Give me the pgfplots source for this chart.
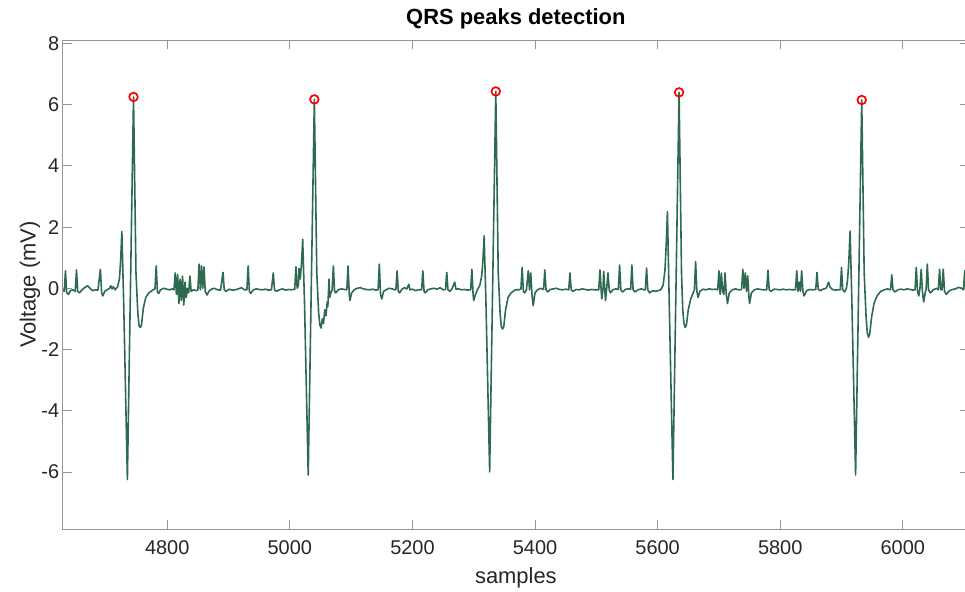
\documentclass[border=0pt]{standalone}
\usepackage{fontspec}
\setmainfont{Liberation Sans}
\usepackage{pgfplots}
\usepackage{pgfplotstable}
\pgfplotsset{compat=1.18}
\definecolor{ecg}{RGB}{46,106,79}
\definecolor{axgray}{RGB}{150,150,150}
\pgfplotstableread{
x y
4630 -0.05
4632 -0.1
4634 0.57
4636 -0.15
4639 -0.2
4642 -0.08
4646 -0.05
4650 -0.1
4652 0.6
4654 -0.1
4657 -0.15
4661 -0.05
4666 0.03
4670 0.08
4674 0.0
4678 -0.08
4682 -0.05
4687 -0.06
4691 0.62
4693 -0.15
4695 -0.25
4698 -0.1
4702 -0.05
4706 0.0
4708 0.08
4710 -0.02
4712 0.05
4715 -0.05
4719 0.05
4722 0.3
4724 0.9
4726 1.85
4729 -0.5
4735 -6.25
4745 6.25
4749 0.5
4752 -0.8
4754 -1.22
4756 -1.28
4758 -1.2
4761 -0.65
4765 -0.3
4770 -0.15
4777 -0.05
4780 -0.02
4782 0.73
4784 -0.12
4786 -0.17
4789 -0.05
4794 0.0
4799 -0.03
4804 -0.05
4808 -0.02
4811 -0.05
4813 0.5
4815 -0.2
4817 0.45
4819 -0.5
4821 0.3
4823 -0.4
4825 0.4
4827 -0.55
4829 0.2
4831 -0.3
4833 0.0
4835 -0.15
4837 0.4
4839 -0.1
4843 -0.05
4847 -0.08
4850 -0.05
4852 0.79
4854 -0.05
4856 0.73
4858 0.0
4860 0.7
4862 -0.1
4865 -0.22
4868 -0.1
4872 -0.03
4877 0.0
4882 -0.05
4887 -0.06
4891 0.52
4893 -0.05
4896 -0.1
4901 -0.03
4906 -0.06
4911 -0.05
4916 -0.02
4921 0.02
4926 -0.05
4930 -0.05
4932 0.73
4934 -0.1
4936 -0.17
4940 -0.06
4945 -0.02
4950 -0.04
4955 -0.05
4960 -0.03
4965 -0.06
4970 -0.05
4973 0.5
4975 -0.05
4978 -0.1
4983 -0.05
4988 -0.02
4993 -0.06
4998 -0.04
5003 -0.05
5008 -0.03
5010 0.7
5012 0.0
5014 0.1
5015 0.65
5017 0.3
5019 0.8
5021 1.6
5024 -0.5
5030 -6.1
5040 6.17
5044 0.5
5047 -0.8
5049 -1.2
5051 -1.3
5053 -1.0
5055 -1.15
5057 -0.7
5059 -0.9
5061 -0.45
5062 -0.6
5064 0.3
5065 -0.3
5067 -0.15
5069 -0.05
5071 0.73
5073 -0.1
5075 -0.15
5079 -0.05
5084 -0.02
5089 -0.04
5093 -0.05
5095 0.73
5097 -0.2
5098 -0.4
5101 -0.15
5105 -0.05
5110 0.0
5115 0.02
5120 -0.02
5125 -0.04
5130 -0.05
5135 -0.03
5140 -0.06
5144 -0.05
5146 0.79
5148 -0.2
5150 -0.35
5153 -0.1
5157 -0.05
5162 0.0
5167 -0.02
5171 -0.05
5173 -0.05
5175 0.57
5177 -0.1
5179 -0.15
5183 -0.03
5187 0.02
5191 -0.02
5194 0.13
5196 -0.05
5200 -0.03
5205 -0.08
5210 -0.05
5215 -0.05
5217 0.57
5219 -0.1
5221 -0.15
5225 -0.05
5230 -0.02
5235 0.0
5240 -0.03
5245 0.02
5250 -0.05
5254 -0.04
5256 0.52
5258 -0.05
5261 -0.1
5265 0.0
5269 0.2
5271 -0.03
5275 -0.02
5280 -0.05
5285 -0.04
5290 -0.06
5295 -0.05
5297 0.62
5299 -0.2
5300 -0.4
5303 -0.2
5306 -0.05
5310 0.1
5313 0.4
5315 0.9
5317 1.71
5320 -0.5
5326 -6.0
5336 6.43
5340 0.5
5343 -0.8
5345 -1.25
5347 -1.33
5349 -1.25
5352 -0.7
5356 -0.3
5361 -0.15
5368 -0.05
5373 -0.05
5377 -0.03
5379 0.68
5381 -0.1
5383 -0.15
5386 -0.05
5389 0.57
5391 -0.05
5393 0.5
5395 -0.2
5397 -0.57
5400 -0.15
5404 -0.05
5409 0.0
5414 -0.04
5416 0.6
5418 -0.05
5421 -0.12
5425 -0.04
5430 -0.02
5435 0.0
5440 -0.04
5445 -0.05
5450 -0.03
5455 -0.05
5457 0.5
5459 -0.05
5462 -0.1
5467 -0.04
5472 -0.05
5477 -0.02
5482 -0.04
5487 -0.06
5492 -0.04
5497 -0.05
5502 -0.05
5504 -0.05
5506 0.6
5508 -0.1
5509 -0.35
5511 0.0
5512 0.55
5514 -0.1
5515 -0.4
5517 0.0
5519 0.5
5521 -0.05
5523 -0.15
5527 -0.05
5532 -0.02
5536 -0.04
5538 0.76
5540 -0.05
5543 -0.12
5548 -0.03
5553 -0.02
5556 -0.04
5558 0.76
5560 -0.05
5563 -0.12
5568 -0.05
5573 -0.02
5578 -0.05
5580 -0.05
5582 0.66
5584 -0.05
5587 -0.15
5592 -0.08
5597 -0.1
5602 -0.07
5605 -0.05
5609 0.1
5612 0.6
5614 1.4
5616 2.5
5619 -0.5
5625 -6.25
5635 6.4
5639 0.5
5641 -0.7
5643 -1.15
5645 -1.28
5647 -1.2
5650 -0.7
5654 -0.35
5658 -0.15
5660 -0.05
5662 0.87
5664 -0.1
5666 -0.3
5669 -0.1
5674 -0.03
5679 -0.05
5684 -0.02
5689 -0.04
5694 -0.03
5698 -0.05
5700 0.57
5702 -0.2
5704 0.5
5706 -0.1
5708 -0.2
5710 0.5
5712 -0.2
5714 -0.5
5717 -0.15
5722 -0.05
5727 -0.02
5732 -0.05
5737 -0.04
5739 0.62
5741 0.0
5743 0.5
5745 -0.1
5747 0.4
5749 -0.3
5750 -0.5
5753 -0.15
5758 -0.05
5763 -0.02
5768 -0.04
5773 -0.05
5778 -0.05
5780 0.59
5782 -0.05
5785 -0.1
5790 -0.03
5795 -0.04
5800 -0.05
5805 -0.03
5810 -0.05
5815 -0.04
5820 -0.05
5825 -0.05
5827 0.57
5829 -0.1
5831 0.2
5833 -0.1
5835 0.57
5837 -0.1
5839 -0.25
5843 -0.08
5848 -0.04
5853 -0.05
5858 -0.04
5860 0.52
5862 -0.03
5865 -0.08
5870 -0.03
5875 0.0
5879 0.2
5881 0.05
5885 -0.04
5890 -0.06
5895 -0.05
5898 -0.05
5900 0.68
5902 -0.05
5905 -0.12
5908 0.0
5910 0.3
5912 0.9
5914 1.87
5917 -0.5
5923 -6.1
5933 6.15
5937 0.5
5940 -0.9
5942 -1.45
5944 -1.6
5946 -1.5
5949 -0.95
5953 -0.5
5958 -0.25
5964 -0.1
5970 -0.05
5975 -0.02
5980 -0.05
5982 0.44
5984 -0.05
5987 -0.12
5992 -0.05
5997 -0.03
6002 -0.05
6007 -0.02
6012 -0.04
6017 -0.06
6020 -0.05
6022 0.68
6024 -0.1
6026 -0.25
6028 0.0
6030 0.62
6032 -0.1
6034 -0.45
6037 -0.1
6038 -0.05
6040 0.79
6042 -0.05
6045 -0.15
6050 -0.05
6055 0.0
6058 -0.05
6060 0.62
6062 -0.05
6064 -0.05
6066 0.62
6068 -0.1
6071 -0.2
6076 -0.08
6081 -0.04
6086 -0.02
6091 0.03
6096 0.0
6099 -0.05
6101 0.57
6103 -0.05
6108 -0.05
}\ecgdata
\begin{document}
\begin{tikzpicture}
\begin{axis}[
  scale only axis, width=906bp, height=489bp,
  xmin=4629.5, xmax=6108, ymin=-7.87, ymax=8.11,
  xtick={4800,5000,...,6000}, ytick={-6,-4,...,8},
  tick align=inside, major tick length=9bp,
  axis line style={axgray, line width=0.8bp},
  every tick/.style={axgray, line width=0.8bp},
  /pgf/number format/assume math mode=true,
  /pgf/number format/1000 sep={},
  tick label style={font=\fontsize{20}{24}\selectfont, text=black!85},
  xticklabel style={yshift=-8bp},
  title={QRS peaks detection},
  title style={font=\bfseries\fontsize{22}{26}\selectfont, at={(axis description cs:0.5,1)}, anchor=base, yshift=10bp, inner sep=0pt},
  xlabel={samples},
  xlabel style={font=\fontsize{22}{26}\selectfont, at={(axis description cs:0.5,0)}, anchor=base, yshift=-54bp, inner sep=0pt, text=black!85},
  ylabel={Voltage (mV)},
  ylabel style={font=\fontsize{22}{26}\selectfont, at={(axis description cs:-0.0361,0.5)}, anchor=center, text=black!85},
]
\addplot[ecg, line width=1.6bp, line join=round] table {\ecgdata};
\addplot[only marks, mark=o, mark size=4.3bp, mark options={red, line width=1.7bp}] coordinates {(4745,6.25) (5040,6.17) (5336,6.43) (5635,6.4) (5933,6.15)};
\coordinate (bl) at (rel axis cs:0,0);
\coordinate (tr) at (rel axis cs:1,1);
\end{axis}
\pgfresetboundingbox
\path[use as bounding box] ([xshift=-62.7bp,yshift=-62bp]bl) rectangle ([xshift=-4bp,yshift=40bp]tr);
\end{tikzpicture}
\end{document}
